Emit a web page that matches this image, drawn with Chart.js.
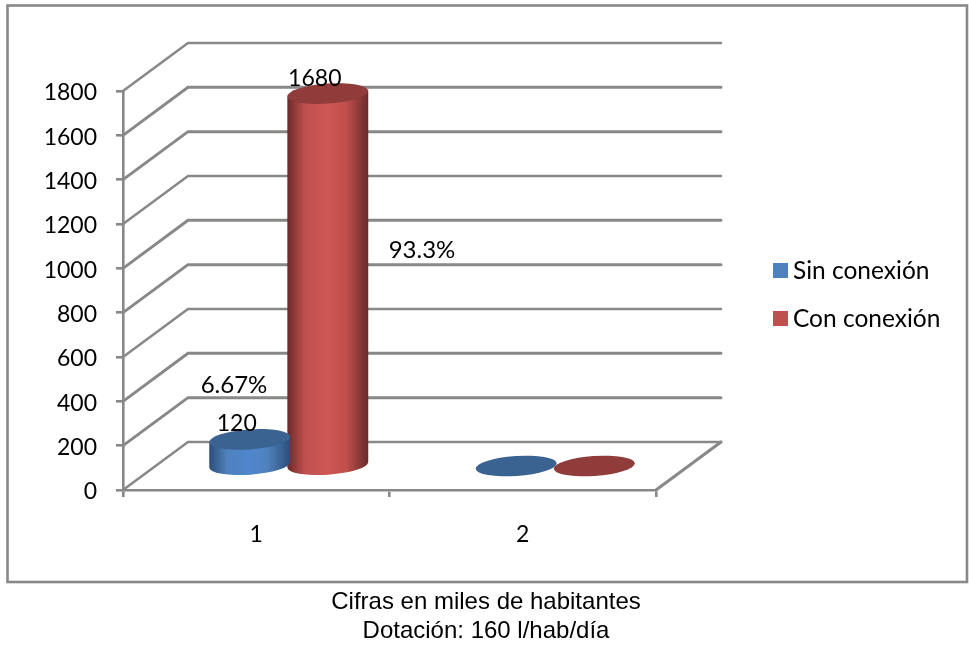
<!DOCTYPE html>
<html>
<head>
<meta charset="utf-8">
<style>
html,body{margin:0;padding:0;background:#fff}
#wrap{position:absolute;left:0;top:0;width:969px;height:646px}
</style>
<script src="https://cdn.jsdelivr.net/npm/chart.js@4/dist/chart.umd.js"></script>
</head>
<body>
<div id="wrap"><canvas id="c" width="969" height="646"></canvas></div>
<script>
// Chart content
const categories = ['1', '2'];
const sinConexion = [120, 0];
const conConexion = [1680, 0];
const seriesNames = ['Sin conexión', 'Con conexión'];
const valueTicksMax = 1800;
const valueStep = 200;
const percentSin = '6.67%';
const percentCon = '93.3%';
const footerLines = ['Cifras en miles de habitantes', 'Dotación: 160 l/hab/día'];

// Colour sets for the cylinders
const blueShades = { flat: '#4f81bd', top: '#3b6392', edge: '#2c4e78', mid: '#4f86cc' };
const redShades = { flat: '#c0504d', top: '#8f3c3a', edge: '#6a2a29', mid: '#ce5755' };

const GRID = '#888888';
const LABEL_FONT = '23px Lato';
const NOTE_FONT = '24px Lato';
const LEGEND_FONT = '24.5px Lato';
const DEPTH_X = 65, DEPTH_Y = 48;

// Bar element drawn as a tilted cylinder standing halfway into the floor
class CylinderElement extends Chart.BarElement {
  draw(ctx) {
    const shades = this.options.backgroundColor === redShades.flat ? redShades : blueShades;
    const rx = this.width / 2 + 1.5;
    const ry = 10;
    const tilt = -0.07;
    const cx = this.x + DEPTH_X / 2;
    const topY = this.y - DEPTH_Y / 2;
    const baseY = this.base - DEPTH_Y / 2;
    ctx.save();
    if (baseY - topY > 0.5) {
      const g = ctx.createLinearGradient(cx - rx, 0, cx + rx, 0);
      g.addColorStop(0, shades.edge);
      g.addColorStop(0.22, shades.flat);
      g.addColorStop(0.5, shades.mid);
      g.addColorStop(0.72, shades.flat);
      g.addColorStop(1, shades.edge);
      ctx.fillStyle = g;
      const dx = rx * Math.cos(tilt), dy = rx * Math.sin(tilt);
      ctx.beginPath();
      ctx.moveTo(cx - dx, topY - dy);
      ctx.lineTo(cx - dx, baseY - dy);
      ctx.ellipse(cx, baseY, rx, ry, tilt, Math.PI, 0, true);
      ctx.lineTo(cx + dx, topY + dy);
      ctx.closePath();
      ctx.fill();
    }
    ctx.fillStyle = shades.top;
    ctx.beginPath();
    ctx.ellipse(cx, topY, rx, ry, tilt, 0, Math.PI * 2);
    ctx.fill();
    ctx.restore();
  }
}
CylinderElement.id = 'cylinderBar';

class CylinderController extends Chart.BarController {}
CylinderController.id = 'cylinder';
CylinderController.defaults = Object.assign({}, Chart.BarController.defaults, { dataElementType: 'cylinderBar' });
CylinderController.overrides = Chart.BarController.overrides;
Chart.register(CylinderElement, CylinderController);

// Outer frame, receding walls and floor edges, all taken from the scales
const wallsPlugin = {
  id: 'walls',
  beforeDatasetsDraw(chart) {
    const { ctx, scales: { x, y } } = chart;
    ctx.save();
    ctx.strokeStyle = GRID;
    ctx.lineWidth = 2.6;
    ctx.strokeRect(7.5, 5.5, 959.5, 576.5);
    ctx.lineCap = 'round';
    y.ticks.forEach((t, i) => {
      const py = y.getPixelForValue(t.value);
      ctx.lineWidth = i % 3 === 0 ? 2.5 : 3;
      ctx.beginPath();
      ctx.moveTo(x.left, py);
      ctx.lineTo(x.left + DEPTH_X, py - DEPTH_Y);
      ctx.lineTo(x.right + DEPTH_X, py - DEPTH_Y);
      ctx.stroke();
    });
    ctx.lineWidth = 3;
    ctx.beginPath();
    ctx.moveTo(x.right, y.bottom);
    ctx.lineTo(x.right + DEPTH_X, y.bottom - DEPTH_Y);
    ctx.stroke();
    ctx.restore();
  },
  afterDatasetsDraw(chart) {
    const { ctx } = chart;
    ctx.save();
    ctx.fillStyle = '#000';
    ctx.font = LABEL_FONT;
    ctx.textAlign = 'center';
    ctx.textBaseline = 'middle';
    // value labels sit up and left of each cylinder top
    chart.data.datasets.forEach((ds, di) => {
      const els = chart.getDatasetMeta(di).data;
      ds.data.forEach((v, i) => {
        if (!v) return;
        ctx.fillText(String(v), els[i].x + DEPTH_X / 2 - 13, els[i].y - DEPTH_Y / 2 - 15.5);
      });
    });
    ctx.font = NOTE_FONT;
    ctx.fillText(percentSin, 234, 385);
    ctx.fillText(percentCon, 422, 250);

    // legend
    const rows = [263, 311];
    ctx.font = LEGEND_FONT;
    ctx.textAlign = 'left';
    chart.data.datasets.forEach((ds, di) => {
      ctx.fillStyle = ds.backgroundColor;
      ctx.fillRect(773, rows[di], 15, 15);
      ctx.fillStyle = '#000';
      ctx.fillText(ds.label, 793, rows[di] + 8.5);
    });

    // notes under the frame
    ctx.font = '24px "Liberation Sans"';
    ctx.textAlign = 'center';
    ctx.fillText(footerLines[0], 486, 602);
    ctx.fillText(footerLines[1], 486, 631);
    ctx.restore();
  }
};

new Chart(document.getElementById('c'), {
  type: 'cylinder',
  data: {
    labels: categories,
    datasets: [
      { label: seriesNames[0], data: sinConexion, backgroundColor: blueShades.flat, clip: false },
      { label: seriesNames[1], data: conConexion, backgroundColor: redShades.flat, clip: false }
    ]
  },
  options: {
    responsive: false,
    animation: false,
    layout: { padding: { left: 0, top: 91, right: 313, bottom: 96 } },
    categoryPercentage: 0.586,
    barPercentage: 1,
    plugins: { legend: { display: false }, tooltip: { enabled: false }, title: { display: false } },
    scales: {
      x: {
        grid: { drawOnChartArea: false, color: GRID, lineWidth: 2.6, tickLength: 7 },
        border: { color: GRID, width: 2.6 },
        ticks: { color: '#000', font: { family: 'Lato', size: 23 }, padding: 24 },
        afterFit(s) { s.height = 60; }
      },
      y: {
        min: 0,
        max: valueTicksMax,
        grid: { drawOnChartArea: false, color: GRID, lineWidth: 2.6, tickLength: 7 },
        border: { color: GRID, width: 2.6 },
        ticks: {
          stepSize: valueStep,
          color: '#000',
          font: { family: 'Lato', size: 23 },
          padding: 19,
          labelOffset: 2,
          callback: v => String(v)
        },
        afterFit(s) { s.width = 123; }
      }
    }
  },
  plugins: [wallsPlugin]
});
</script>
</body>
</html>
